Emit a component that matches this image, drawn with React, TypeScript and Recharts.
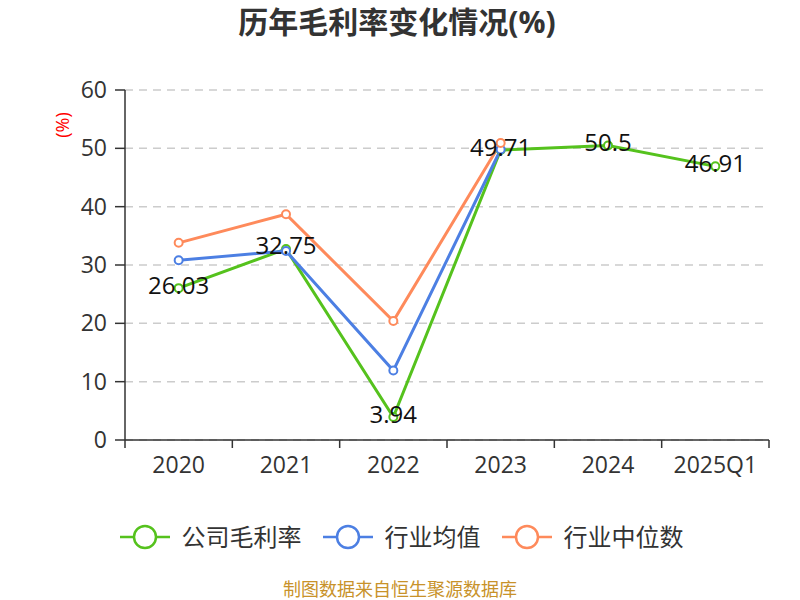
import React from 'react';
import {
  LineChart,
  Line,
  XAxis,
  YAxis,
  CartesianGrid,
  LabelList,
} from 'recharts';

const categories = ['2020', '2021', '2022', '2023', '2024', '2025Q1'];
const companyMargin = [26.03, 32.75, 3.94, 49.71, 50.5, 46.91];
const industryAvg = [30.8, 32.4, 11.9, 49.8, null, null];
const industryMedian = [33.8, 38.7, 20.4, 50.9, null, null];
const yTicks = [0, 10, 20, 30, 40, 50, 60];

const seriesNames = ['公司毛利率', '行业均值', '行业中位数'];
const GREEN = '#55c21d';
const BLUE = '#4c7fe3';
const ORANGE = '#fe8a5b';
const FONT = '"Open Sans", "Noto Sans CJK SC", sans-serif';

const W = 800;
const H = 600;
const PLOT_LEFT = 125;
const PLOT_RIGHT = 31;
const PLOT_W = W - PLOT_LEFT - PLOT_RIGHT;

const data = categories.map((name, i) => ({
  name,
  company: companyMargin[i],
  avg: industryAvg[i],
  median: industryMedian[i],
}));

function XTick(props: any) {
  const { x, y, payload, index } = props;
  const bw = PLOT_W / categories.length;
  const last = index === categories.length - 1;
  return (
    <g>
      <line x1={x - bw / 2} y1={y} x2={x - bw / 2} y2={y + 8} stroke="#333" strokeWidth={1.5} />
      {last && (
        <line x1={x + bw / 2} y1={y} x2={x + bw / 2} y2={y + 8} stroke="#333" strokeWidth={1.5} />
      )}
      <text x={x} y={y + 33} textAnchor="middle" fill="#333" fontSize={23} fontFamily={FONT}>
        {payload.value}
      </text>
    </g>
  );
}

function ValueLabel(props: any) {
  const { x, y, value } = props;
  return (
    <text x={x} y={y + 5.5} textAnchor="middle" fill="#111" fontSize={24} fontFamily={FONT}>
      {value}
    </text>
  );
}

function UnitLabel(props: any) {
  const { viewBox } = props;
  const cx = viewBox.x - 3;
  const cy = viewBox.y + 35;
  return (
    <text
      x={cx}
      y={cy}
      transform={`rotate(-90 ${cx} ${cy})`}
      textAnchor="middle"
      dominantBaseline="central"
      fill="#f00"
      fontSize={18}
      fontFamily={FONT}
    >
      (%)
    </text>
  );
}

function LegendItem({ color, label }: { color: string; label: string }) {
  return (
    <div style={{ display: 'flex', alignItems: 'center', marginRight: 21 }}>
      <svg width={50} height={28} style={{ marginRight: 12 }}>
        <line x1={0} y1={14} x2={50} y2={14} stroke={color} strokeWidth={2.5} />
        <circle cx={25} cy={14} r={11} fill="#fff" stroke={color} strokeWidth={2.5} />
      </svg>
      <span style={{ fontSize: 24, color: '#333', lineHeight: '28px' }}>{label}</span>
    </div>
  );
}

export default function App() {
  const dot = (c: string) => ({ r: 4, fill: '#fff', stroke: c, strokeWidth: 2 });
  return (
    <div
      style={{
        position: 'absolute',
        left: 0,
        top: 0,
        width: W,
        height: H,
        background: '#fff',
        fontFamily: FONT,
        overflow: 'hidden',
      }}
    >
      <div
        style={{
          position: 'absolute',
          top: 4,
          width: W,
          textAlign: 'center',
          fontSize: 30,
          fontWeight: 'bold',
          color: '#333',
          lineHeight: '36px',
          paddingRight: 6,
          boxSizing: 'border-box',
        }}
      >
        历年毛利率变化情况(%)
      </div>

      <LineChart
        width={W}
        height={H}
        data={data}
        margin={{ top: 90, right: PLOT_RIGHT, bottom: 120, left: 65 }}
      >
        <CartesianGrid vertical={false} stroke="#ccc" strokeDasharray="8 6" strokeWidth={1.5} />
        <XAxis
          dataKey="name"
          scale="band"
          height={40}
          axisLine={{ stroke: '#333', strokeWidth: 1.5 }}
          tickLine={false}
          tickSize={0}
          tickMargin={0}
          tick={<XTick />}
          interval={0}
        />
        <YAxis
          width={60}
          domain={[0, 60]}
          ticks={yTicks}
          interval={0}
          axisLine={{ stroke: '#333', strokeWidth: 1.5 }}
          tickLine={{ stroke: '#333', strokeWidth: 1.5 }}
          tickSize={10}
          tickMargin={8}
          tick={{ fill: '#333', fontSize: 23, fontFamily: FONT }}
          label={<UnitLabel />}
        />
        <Line
          dataKey="company"
          stroke={GREEN}
          strokeWidth={3}
          dot={dot(GREEN)}
          activeDot={false}
          isAnimationActive={false}
        />
        <Line
          dataKey="avg"
          stroke={BLUE}
          strokeWidth={3}
          dot={dot(BLUE)}
          activeDot={false}
          isAnimationActive={false}
        />
        <Line
          dataKey="median"
          stroke={ORANGE}
          strokeWidth={3}
          dot={dot(ORANGE)}
          activeDot={false}
          isAnimationActive={false}
        />
        <Line
          dataKey="company"
          stroke="none"
          dot={false}
          activeDot={false}
          isAnimationActive={false}
        >
          <LabelList dataKey="company" content={<ValueLabel />} />
        </Line>
      </LineChart>

      <div
        style={{
          position: 'absolute',
          top: 523,
          left: 0,
          width: W,
          display: 'flex',
          justifyContent: 'center',
          paddingLeft: 24,
          boxSizing: 'border-box',
        }}
      >
        <LegendItem color={GREEN} label={seriesNames[0]} />
        <LegendItem color={BLUE} label={seriesNames[1]} />
        <LegendItem color={ORANGE} label={seriesNames[2]} />
      </div>

      <div
        style={{
          position: 'absolute',
          top: 580,
          width: W,
          textAlign: 'center',
          fontSize: 18,
          color: '#c8922a',
          lineHeight: '18px',
        }}
      >
        制图数据来自恒生聚源数据库
      </div>
    </div>
  );
}
